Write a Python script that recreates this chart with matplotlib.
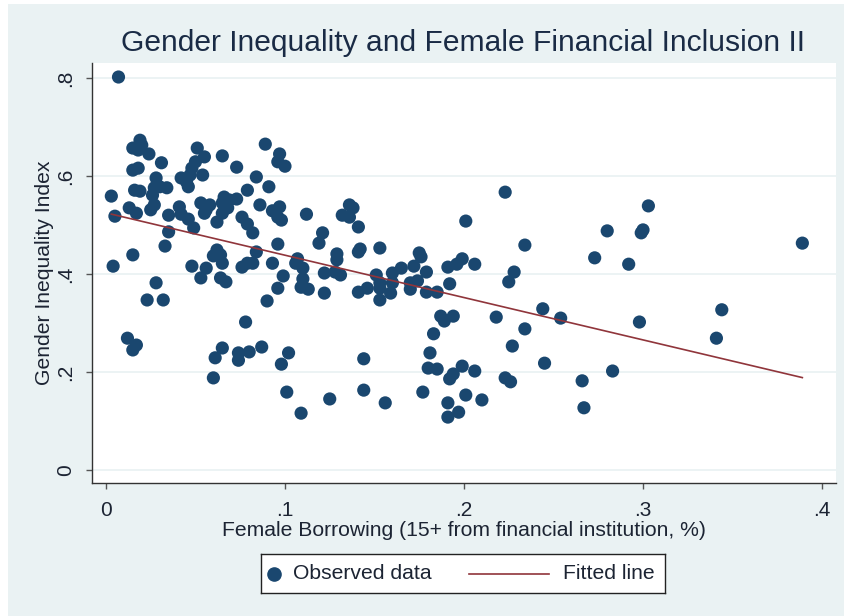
import matplotlib
matplotlib.use("Agg")
import matplotlib.pyplot as plt
from matplotlib.ticker import FuncFormatter
from matplotlib.lines import Line2D
import numpy as np

plt.rcParams['font.family'] = ['Liberation Sans', 'DejaVu Sans']

# female borrowing share (x) and gender inequality index (y)
borrowing = [
    0.007, 0.019, 0.015, 0.020, 0.018, 0.024, 0.031, 0.015, 0.018, 0.003,
    0.005, 0.016, 0.019, 0.013, 0.017, 0.028, 0.027, 0.030, 0.034, 0.026,
    0.027, 0.025, 0.035, 0.035, 0.033, 0.015, 0.041, 0.042, 0.046, 0.049,
    0.051, 0.055, 0.050, 0.048, 0.047, 0.054, 0.042, 0.045, 0.046, 0.053,
    0.056, 0.058, 0.055, 0.062, 0.065, 0.073, 0.079, 0.084, 0.091, 0.066,
    0.069, 0.065, 0.068, 0.065, 0.073, 0.076, 0.079, 0.082, 0.086, 0.093,
    0.097, 0.096, 0.098, 0.089, 0.097, 0.096, 0.100, 0.096, 0.062, 0.064,
    0.084, 0.004, 0.028, 0.023, 0.032, 0.012, 0.017, 0.015, 0.048, 0.056,
    0.053, 0.065, 0.060, 0.064, 0.067, 0.078, 0.076, 0.079, 0.082, 0.093,
    0.099, 0.096, 0.090, 0.061, 0.065, 0.074, 0.074, 0.080, 0.087, 0.060,
    0.098, 0.101, 0.102, 0.112, 0.136, 0.138, 0.132, 0.136, 0.141, 0.121,
    0.119, 0.141, 0.142, 0.129, 0.129, 0.153, 0.106, 0.107, 0.110, 0.122,
    0.128, 0.131, 0.109, 0.113, 0.110, 0.122, 0.141, 0.146, 0.151, 0.153,
    0.153, 0.160, 0.165, 0.172, 0.175, 0.176, 0.179, 0.160, 0.159, 0.170,
    0.174, 0.170, 0.179, 0.185, 0.192, 0.191, 0.196, 0.199, 0.201, 0.153,
    0.187, 0.189, 0.194, 0.183, 0.181, 0.180, 0.185, 0.192, 0.194, 0.199,
    0.191, 0.197, 0.191, 0.201, 0.177, 0.144, 0.109, 0.125, 0.144, 0.156,
    0.223, 0.234, 0.280, 0.273, 0.292, 0.206, 0.228, 0.225, 0.244, 0.254,
    0.218, 0.234, 0.227, 0.245, 0.283, 0.206, 0.223, 0.226, 0.210, 0.266,
    0.267, 0.303, 0.300, 0.299, 0.389, 0.298, 0.344, 0.341,
]
gii = [
    0.802, 0.673, 0.657, 0.663, 0.653, 0.645, 0.627, 0.612, 0.616, 0.559,
    0.518, 0.571, 0.569, 0.535, 0.524, 0.596, 0.576, 0.578, 0.576, 0.561,
    0.541, 0.531, 0.520, 0.486, 0.457, 0.439, 0.537, 0.522, 0.512, 0.494,
    0.657, 0.639, 0.629, 0.616, 0.602, 0.602, 0.596, 0.588, 0.578, 0.545,
    0.531, 0.541, 0.524, 0.506, 0.641, 0.618, 0.571, 0.598, 0.578, 0.557,
    0.551, 0.545, 0.535, 0.524, 0.553, 0.516, 0.502, 0.484, 0.541, 0.529,
    0.537, 0.516, 0.510, 0.665, 0.645, 0.629, 0.620, 0.461, 0.449, 0.439,
    0.445, 0.416, 0.382, 0.347, 0.347, 0.269, 0.255, 0.245, 0.416, 0.412,
    0.392, 0.422, 0.437, 0.392, 0.384, 0.302, 0.414, 0.422, 0.422, 0.422,
    0.396, 0.371, 0.345, 0.229, 0.249, 0.239, 0.224, 0.241, 0.251, 0.188,
    0.216, 0.159, 0.239, 0.522, 0.541, 0.535, 0.520, 0.516, 0.496, 0.484,
    0.463, 0.445, 0.451, 0.441, 0.429, 0.453, 0.422, 0.431, 0.412, 0.402,
    0.404, 0.398, 0.373, 0.369, 0.390, 0.361, 0.363, 0.371, 0.398, 0.382,
    0.371, 0.402, 0.412, 0.416, 0.443, 0.435, 0.404, 0.382, 0.361, 0.382,
    0.386, 0.369, 0.363, 0.363, 0.380, 0.414, 0.420, 0.431, 0.508, 0.347,
    0.314, 0.304, 0.314, 0.278, 0.239, 0.208, 0.206, 0.186, 0.196, 0.212,
    0.137, 0.118, 0.108, 0.153, 0.159, 0.227, 0.116, 0.145, 0.163, 0.137,
    0.567, 0.459, 0.488, 0.433, 0.420, 0.420, 0.404, 0.384, 0.329, 0.310,
    0.312, 0.288, 0.253, 0.218, 0.202, 0.202, 0.188, 0.180, 0.143, 0.182,
    0.127, 0.539, 0.490, 0.484, 0.463, 0.302, 0.327, 0.269,
]
x_ticks = [0, 0.1, 0.2, 0.3, 0.4]
y_ticks = [0, 0.2, 0.4, 0.6, 0.8]

navy = '#1A476F'
maroon = '#90353B'
bg = '#EAF2F3'
txt = '#1c2433'

x = np.array(borrowing)
y = np.array(gii)
slope, icpt = np.polyfit(x, y, 1)
xf = np.array([x.min(), x.max()])

fig = plt.figure(figsize=(8.45, 6.16), dpi=100)
fig.patch.set_facecolor('white')
fig.patches.append(plt.Rectangle((8 / 845, 0), 1, 1 - 4 / 616, transform=fig.transFigure,
                                 facecolor=bg, edgecolor='none', zorder=-10))

ax = fig.add_axes([92 / 845, 1 - 483 / 616, 744 / 845, 420 / 616])
ax.set_facecolor('white')
ax.scatter(x, y, s=90, color=navy, edgecolors='none', zorder=3)
ax.plot(xf, icpt + slope * xf, color=maroon, lw=1.2, zorder=4)

ax.set_xlim(-0.0078, 0.4078)
ax.set_ylim(-0.0265, 0.8306)
ax.set_xticks(x_ticks)
ax.set_yticks(y_ticks)
fmt = FuncFormatter(lambda v, p: '0' if abs(v) < 1e-9 else ('%.1f' % v).lstrip('0'))
ax.xaxis.set_major_formatter(fmt)
ax.yaxis.set_major_formatter(fmt)
ax.grid(axis='y', color=bg, lw=1.3, zorder=0)
ax.set_axisbelow(True)
for s in ['top', 'right']:
    ax.spines[s].set_visible(False)
for s in ['left', 'bottom']:
    ax.spines[s].set_color('#333333')
    ax.spines[s].set_linewidth(1.0)
ax.tick_params(axis='both', length=4, width=1, color='#555555', labelsize=15, labelcolor=txt)
ax.tick_params(axis='x', pad=9)
ax.tick_params(axis='y', pad=8)
for lab in ax.get_yticklabels():
    lab.set_rotation(90)
    lab.set_va('center')

fig.text(463 / 845, 1 - 43 / 616, 'Gender Inequality and Female Financial Inclusion II',
         ha='center', va='center', fontsize=21.6, color='#1a2b45')
fig.text(464 / 845, 1 - 531 / 616, 'Female Borrowing (15+ from financial institution, %)',
         ha='center', va='center', fontsize=15.2, color=txt)
fig.text(45 / 845, 1 - 273 / 616, 'Gender Inequality Index', rotation=90,
         ha='center', va='center', fontsize=15.2, color=txt)

# legend box
lg = fig.add_axes([261 / 845, 1 - 593 / 616, 404 / 845, 39 / 616])
lg.set_facecolor('white')
lg.set_xlim(0, 404)
lg.set_ylim(0, 39)
lg.set_xticks([])
lg.set_yticks([])
for s in lg.spines.values():
    s.set_color('#222222')
    s.set_linewidth(1.0)
lg.add_line(Line2D([13], [19.5], marker='o', markersize=9.5, color=navy, lw=0))
lg.add_line(Line2D([208, 288], [19.5, 19.5], color=maroon, lw=1.2))
lg.text(32, 19.5, 'Observed data', va='center', ha='left', fontsize=15.2, color=txt)
lg.text(302, 19.5, 'Fitted line', va='center', ha='left', fontsize=15.2, color=txt)

fig.savefig('out.png', dpi=100)
